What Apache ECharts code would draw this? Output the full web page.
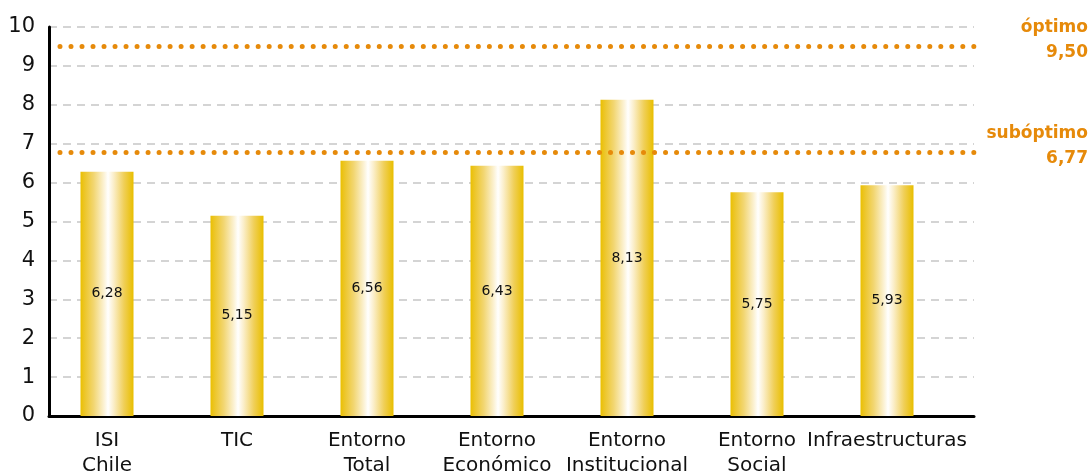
<!DOCTYPE html>
<html>
<head>
<meta charset="utf-8">
<script src="https://cdn.jsdelivr.net/npm/echarts@6/dist/echarts.min.js"></script>
<style>
  html, body { margin: 0; padding: 0; background: #fff; }
  #chart { width: 1092px; height: 474px; }
</style>
</head>
<body>
<div id="chart"></div>
<script>
// Index scores per dimension
const categories = ['ISI\nChile', 'TIC', 'Entorno\nTotal', 'Entorno\nEconómico', 'Entorno\nInstitucional', 'Entorno\nSocial', 'Infraestructuras'];
const scores = [6.28, 5.15, 6.56, 6.43, 8.13, 5.75, 5.93];

// Reference levels
const refNames = ['óptimo', 'subóptimo'];
const refValues = [9.50, 6.77];

// Y axis ticks
const yMin = 0, yMax = 10, yStep = 1;

const FONT = 'DejaVu Sans';
const ORANGE = '#E68A0A';
const fmt = v => v.toFixed(2).replace('.', ',');

const barGradient = {
  type: 'linear', x: 0, y: 0, x2: 1, y2: 0,
  colorStops: [
    { offset: 0.00, color: '#EAC000' },
    { offset: 0.06, color: '#ECC420' },
    { offset: 0.25, color: '#F2D672' },
    { offset: 0.45, color: '#FCF3D8' },
    { offset: 0.52, color: '#FFFFFF' },
    { offset: 0.62, color: '#FBEFCC' },
    { offset: 0.82, color: '#F0CF58' },
    { offset: 0.94, color: '#EBC41C' },
    { offset: 1.00, color: '#E8BE00' }
  ]
};

const chart = echarts.init(document.getElementById('chart'), null, { renderer: 'canvas' });

const option = {
  animation: false,
  backgroundColor: '#ffffff',
  grid: [
    // frame: axes and gridlines
    { left: 49, right: 118, top: 27, bottom: 58, outerBoundsMode: 'none', containLabel: false },
    // bars
    { left: 42, width: 910, top: 27, bottom: 58, outerBoundsMode: 'none', containLabel: false }
  ],
  xAxis: [
    {
      gridIndex: 0, type: 'value', min: 0, max: 1,
      axisLine: { show: true, lineStyle: { color: '#000', width: 3 } },
      axisTick: { show: false }, axisLabel: { show: false }, splitLine: { show: false }
    },
    {
      gridIndex: 1, type: 'category', data: categories,
      axisLine: { show: false }, axisTick: { show: false },
      axisLabel: {
        color: '#111', fontFamily: FONT, fontSize: 20, lineHeight: 25,
        margin: 12, interval: 0
      }
    }
  ],
  yAxis: [
    {
      gridIndex: 0, type: 'value', min: yMin, max: yMax, interval: yStep,
      axisLine: { show: true, lineStyle: { color: '#000', width: 3 } },
      axisTick: { show: false },
      axisLabel: { color: '#111', fontFamily: FONT, fontSize: 21, margin: 14 },
      splitLine: { show: true, lineStyle: { color: '#d4d4d4', width: 2, type: [8, 6] } }
    },
    {
      gridIndex: 1, type: 'value', min: yMin, max: yMax, interval: yStep,
      show: false
    }
  ],
  series: [
    {
      type: 'bar',
      xAxisIndex: 1, yAxisIndex: 1,
      data: scores,
      barWidth: 53,
      itemStyle: { color: barGradient },
      label: {
        show: true, position: 'inside',
        color: '#111', fontFamily: FONT, fontSize: 14,
        formatter: p => fmt(p.value)
      },
      z: 2
    },
    {
      type: 'line',
      xAxisIndex: 0, yAxisIndex: 0,
      data: [],
      z: 5,
      markLine: {
        silent: true,
        symbol: 'none',
        label: { show: false },
        lineStyle: { color: ORANGE, width: 5, type: [0.01, 11], cap: 'round', dashOffset: 0.02 },
        data: refValues.map(v => ({ yAxis: v }))
      }
    }
  ]
};

chart.setOption(option);

// Reference level captions on the right margin
const captions = refNames.map((name, i) => {
  const y = chart.convertToPixel({ yAxisIndex: 0 }, refValues[i]);
  return {
    type: 'text',
    x: chart.getWidth() - 4,
    y: y - 6.5,
    style: {
      text: name + '\n' + fmt(refValues[i]),
      fill: ORANGE,
      font: 'bold 17px "' + FONT + '"',
      lineHeight: 25,
      align: 'right',
      verticalAlign: 'middle'
    }
  };
});
chart.setOption({ graphic: captions });
</script>
</body>
</html>
